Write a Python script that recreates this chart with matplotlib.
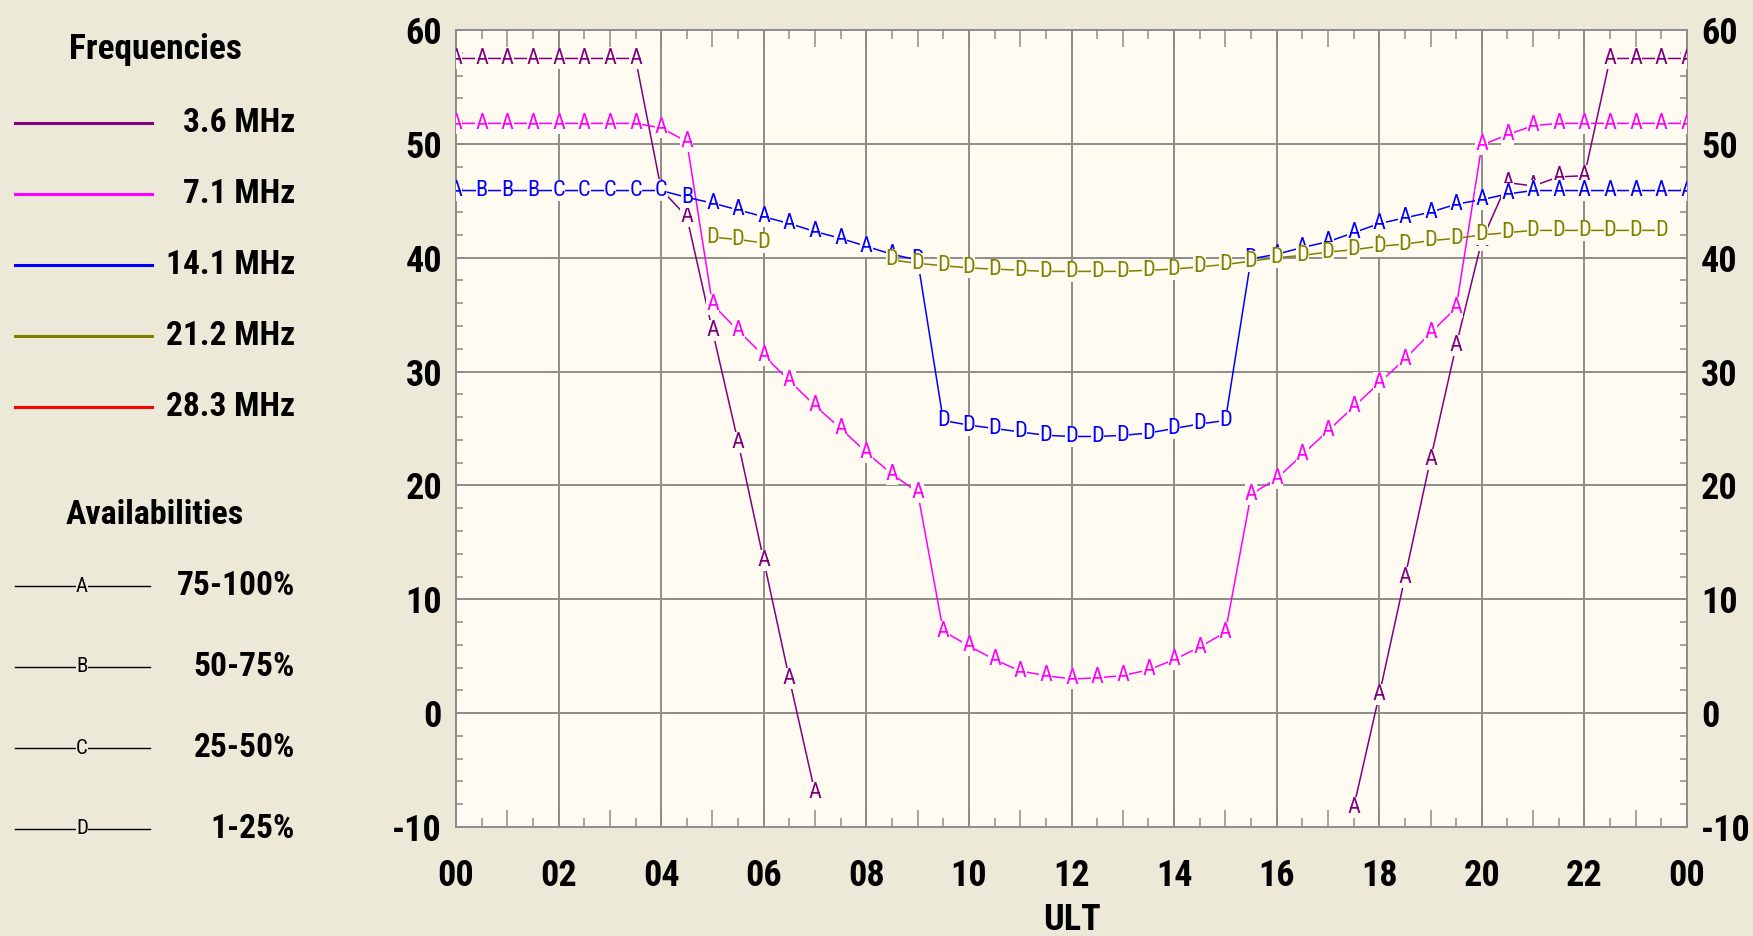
import numpy as np
import matplotlib.pyplot as plt
import matplotlib.font_manager as fm
from matplotlib.lines import Line2D
from matplotlib.ticker import MultipleLocator, FuncFormatter

nan = np.nan

# half-hour steps, 00 to 24 UT
hours = np.arange(0, 24.5, 0.5)

freq_labels = ["3.6 MHz", "7.1 MHz", "14.1 MHz", "21.2 MHz", "28.3 MHz"]
freq_colors = ["#800080", "#FF00FF", "#0000FF", "#808000", "#FF0000"]
avail_letters = ["A", "B", "C", "D"]
avail_labels = ["75-100%", "50-75%", "25-50%", "1-25%"]
x_ticklabels = ["00", "02", "04", "06", "08", "10", "12", "14", "16", "18", "20", "22", "00"]

mhz_3_6 = [57.5, 57.5, 57.5, 57.5, 57.5, 57.5, 57.5, 57.5,
           46.0, 43.6, 33.6, 23.8, 13.4, 3.0, -7.0,
           nan, nan, nan, nan, nan, nan, nan, nan, nan, nan,
           nan, nan, nan, nan, nan, nan, nan, nan, nan, nan,
           -8.3, 1.6, 11.9, 22.3, 32.3, 41.5, 46.6, 46.3, 47.1, 47.2,
           57.5, 57.5, 57.5, 57.5]
mhz_7_1 = [51.8, 51.8, 51.8, 51.8, 51.8, 51.8, 51.8, 51.8,
           51.4, 50.2, 35.9, 33.6, 31.4, 29.2, 27.0, 25.0, 22.9, 21.0, 19.4,
           7.2, 5.9, 4.7, 3.7, 3.3, 3.0, 3.1, 3.3, 3.8, 4.7, 5.8, 7.1,
           19.2, 20.6, 22.7, 24.8, 26.9, 29.0, 31.1, 33.4, 35.6,
           49.9, 50.8, 51.6, 51.8, 51.8, 51.8, 51.8, 51.8, 51.8]
mhz_14_1 = [45.9, 45.9, 45.9, 45.9, 45.9, 45.9, 45.9, 45.9, 45.9,
            45.3, 44.8, 44.2, 43.6, 43.0, 42.3, 41.7, 41.0, 40.3, 39.8,
            25.7, 25.3, 25.0, 24.7, 24.4, 24.3, 24.3, 24.4, 24.6, 25.0, 25.4, 25.7,
            39.9, 40.3, 40.9, 41.4, 42.2, 43.0, 43.5, 44.0, 44.7, 45.1, 45.6,
            45.9, 45.9, 45.9, 45.9, 45.9, 45.9, 45.9]
mhz_21_2 = [nan, nan, nan, nan, nan, nan, nan, nan, nan, nan,
            41.8, 41.6, 41.3, nan, nan, nan, nan,
            39.8, 39.5, 39.3, 39.1, 39.0, 38.9, 38.8, 38.8, 38.8, 38.8, 38.9,
            39.0, 39.2, 39.4, 39.7, 40.0, 40.2, 40.5, 40.7, 41.0, 41.2, 41.5,
            41.7, 42.0, 42.2, 42.4, 42.4, 42.4, 42.4, 42.4, 42.4, nan]

grade_3_6 = ["A"] * 49
grade_7_1 = ["A"] * 49
grade_14_1 = (["A"] + ["B"] * 3 + ["C"] * 5 + ["B"] + ["A"] * 7 + ["A", "D"]
              + ["D"] * 12 + ["D", "A"] + ["A"] * 16)
grade_21_2 = ["D"] * 49

series = [(mhz_3_6, grade_3_6), (mhz_7_1, grade_7_1),
          (mhz_14_1, grade_14_1), (mhz_21_2, grade_21_2)]

# pick a narrow sans if one is installed
names = {f.name for f in fm.fontManager.ttflist}
font_kw = {"family": ["Liberation Sans", "DejaVu Sans"]}
scale = 0.86
for cand in ["Liberation Sans Narrow", "Arial Narrow", "Roboto Condensed",
             "Open Sans Condensed"]:
    if cand in names:
        font_kw = {"family": [cand, "DejaVu Sans"]}
        scale = 1.0
        break
else:
    if any(f.name == "DejaVu Sans" and f.stretch == "condensed" for f in fm.fontManager.ttflist):
        font_kw = {"family": ["DejaVu Sans"], "stretch": "condensed"}
        scale = 0.9

plt.rcParams["axes.unicode_minus"] = False

W, H = 1753, 936
bg = "#ECE9D8"
plot_bg = "#FFFBF0"
grid_c = "#8C8C8C"
big = 26 * scale
leg = 24 * scale

fig = plt.figure(figsize=(W / 100, H / 100), dpi=100, facecolor=bg)
ax = fig.add_axes([456 / W, 1 - 827 / H, (1687 - 456) / W, (827 - 30) / H])
ax.set_facecolor(plot_bg)

for i, (vals, grades) in enumerate(series):
    z = 3 + 2 * i
    ax.plot(hours, vals, color=freq_colors[i], lw=1.1, zorder=z)
    for h, v, g in zip(hours, vals, grades):
        if np.isnan(v) or v < -10:
            continue
        ax.text(h, v, g, color=freq_colors[i], fontsize=16, ha="center", va="center",
                zorder=z + 1, clip_on=True, **font_kw,
                bbox=dict(boxstyle="square,pad=0.0", fc=plot_bg, ec="none"))

ax.set_xlim(0, 24)
ax.set_ylim(-10, 60)

# grid: every 2 h and every 10 units
for gx in np.arange(2, 24, 2):
    ax.axvline(gx, color=grid_c, lw=1.4, zorder=1)
for gy in np.arange(0, 60, 10):
    ax.axhline(gy, color=grid_c, lw=1.4, zorder=1)

ax.xaxis.set_major_locator(MultipleLocator(1))
ax.xaxis.set_minor_locator(MultipleLocator(0.5))
ax.xaxis.set_major_formatter(FuncFormatter(
    lambda v, p: x_ticklabels[int(round(v)) // 2] if int(round(v)) % 2 == 0 else ""))
ax.yaxis.set_major_locator(MultipleLocator(10))
ax.yaxis.set_minor_locator(MultipleLocator(2))
ax.yaxis.set_major_formatter(FuncFormatter(lambda v, p: "%d" % v))

ax.tick_params(axis="x", which="major", direction="in", length=12, width=1.1,
               color=grid_c, top=True, pad=22, labelsize=big)
ax.tick_params(axis="x", which="minor", direction="in", length=6.5, width=1.1,
               color=grid_c, top=True)
ax.tick_params(axis="y", which="major", direction="in", length=5, width=1.1,
               color=grid_c, right=True, labelright=True, pad=10, labelsize=big)
ax.tick_params(axis="y", which="minor", direction="in", length=5, width=1.1,
               color=grid_c, right=True)
for lab in ax.get_xticklabels() + ax.get_yticklabels():
    lab.update(font_kw)
    lab.set_fontweight("bold")
for t in ax.yaxis.get_major_ticks():
    t.label2.update(font_kw)
    t.label2.set_fontweight("bold")
for s in ax.spines.values():
    s.set_color(grid_c)
    s.set_linewidth(1.4)

ax.set_xlabel("ULT", fontsize=big, fontweight="bold", labelpad=6, **font_kw)


def fx(x):
    return x / W


def fy(y):
    return 1 - y / H


# frequency legend
fig.text(fx(155), fy(50), "Frequencies", fontsize=leg + 1.5, fontweight="bold",
         ha="center", va="center", **font_kw)
for i, lab in enumerate(freq_labels):
    y = 123 + i * 71
    fig.add_artist(Line2D([fx(15), fx(152)], [fy(y), fy(y)], color=freq_colors[i], lw=2.2))
    fig.text(fx(295), fy(y), lab, fontsize=leg, fontweight="bold",
             ha="right", va="center", **font_kw)

# availability legend
fig.text(fx(155), fy(515), "Availabilities", fontsize=leg + 0.5, fontweight="bold",
         ha="center", va="center", **font_kw)
for i, (let, lab) in enumerate(zip(avail_letters, avail_labels)):
    y = 586 + i * 81
    fig.add_artist(Line2D([fx(15), fx(150)], [fy(y), fy(y)], color="black", lw=1.0))
    fig.text(fx(82), fy(y), let, fontsize=15, ha="center", va="center", **font_kw,
             bbox=dict(boxstyle="square,pad=0.0", fc=bg, ec="none"))
    fig.text(fx(295), fy(y), lab, fontsize=leg, fontweight="bold",
             ha="right", va="center", **font_kw)

fig.savefig("out.png", dpi=100, facecolor=bg)
